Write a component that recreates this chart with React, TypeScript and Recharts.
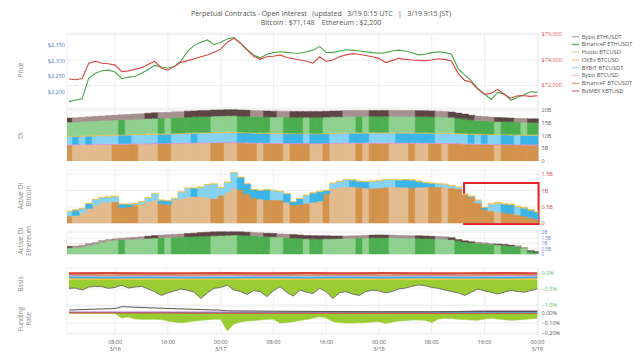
import React from 'react';
import { ComposedChart, Line, Bar, Area, XAxis, YAxis, CartesianGrid, Cell, ReferenceArea } from 'recharts';

const FONT = '"Open Sans", "DejaVu Sans", sans-serif';

// ---------- time axis (hours since 3/16 00:00) ----------
const xTicks = [8, 16, 24, 32, 40, 48, 56, 64, 72];
const xTickTimes = ['08:00', '16:00', '00:00', '08:00', '16:00', '00:00', '08:00', '16:00', '00:00'];
const xTickDates = ['3/16', '', '3/17', '', '', '3/18', '', '', '3/19'];
const X_DOMAIN: [number, number] = [0.7, 72.2];

// ---------- legend ----------
const legendNames = ['Bybit ETHUSDT', 'BinanceF ETHUSDT', 'Huobi BTCUSD', 'OKEx BTCUSD', 'BYBIT BTCUSDT', 'Bybit BTCUSD', 'BinanceF BTCUSDT', 'BitMEX XBTUSD'];
const legendColors = ['#c2aeae', '#62b862', '#d6e8a8', '#f6d58c', '#ace0f5', '#f1c6ee', '#e8ae74', '#e88a8a'];

// ---------- price ----------
const btcPrice = [72510, 72450, 72550, 73750, 73900, 73750, 73700, 73600, 73080, 73150,
  73270, 73400, 73650, 73900, 73350, 73200, 73500, 73820, 73950, 74100,
  74250, 74390, 74600, 74850, 75400, 75700, 75310, 74800, 74300, 74050,
  74260, 74300, 74400, 74200, 74100, 74000, 73900, 73750, 74250, 73900,
  74000, 74250, 74400, 74500, 74450, 74350, 74250, 74130, 73800, 73950,
  74130, 74050, 74000, 73970, 73950, 74000, 74100, 74050, 73900, 72950,
  72400, 72250, 71700, 71300, 71400, 71700, 71300, 71000, 71200, 71200,
  71150, 71200];
const ethPrice = [2171, 2176, 2180, 2245, 2260, 2268, 2270, 2264, 2243, 2248,
  2250, 2260, 2272, 2285, 2280, 2276, 2282, 2300, 2330, 2348,
  2358, 2365, 2350, 2358, 2368, 2372, 2355, 2335, 2318, 2308,
  2320, 2325, 2328, 2326, 2324, 2323, 2328, 2333, 2344, 2326,
  2325, 2330, 2334, 2333, 2330, 2328, 2325, 2323, 2325, 2330,
  2333, 2330, 2325, 2318, 2320, 2325, 2328, 2325, 2320, 2275,
  2255, 2236, 2212, 2195, 2178, 2200, 2195, 2175, 2185, 2193,
  2202, 2200];

// ---------- open interest (billions USD) ----------
const oiBinBtc = [6.2, 6.2, 6.25, 6.3, 6.35, 6.4, 6.4, 6.45, 6.5, 6.55,
  6.6, 6.6, 6.65, 6.7, 6.7, 6.75, 6.8, 6.85, 6.9, 6.95,
  7.0, 7.0, 7.05, 7.1, 7.1, 7.1, 7.05, 7.0, 6.95, 6.9,
  6.85, 6.8, 6.8, 6.75, 6.7, 6.7, 6.7, 6.7, 6.7, 6.75,
  6.8, 6.85, 6.9, 6.9, 6.9, 6.9, 6.9, 6.9, 6.9, 6.9,
  6.9, 6.9, 6.9, 6.9, 6.85, 6.85, 6.85, 6.8, 6.8, 6.7,
  6.6, 6.5, 6.45, 6.4, 6.35, 6.3, 6.3, 6.25, 6.25, 6.2,
  6.2, 6.2];
const oiBybitUsd = [0.35, 0.35, 0.35, 0.35, 0.35, 0.35, 0.35, 0.35, 0.35, 0.35,
  0.35, 0.35, 0.35, 0.35, 0.35, 0.35, 0.35, 0.35, 0.35, 0.35,
  0.35, 0.35, 0.35, 0.35, 0.35, 0.35, 0.35, 0.35, 0.35, 0.35,
  0.35, 0.35, 0.35, 0.35, 0.35, 0.35, 0.35, 0.35, 0.35, 0.35,
  0.35, 0.35, 0.35, 0.35, 0.35, 0.35, 0.35, 0.35, 0.35, 0.35,
  0.35, 0.35, 0.35, 0.35, 0.35, 0.35, 0.35, 0.35, 0.35, 0.35,
  0.35, 0.35, 0.35, 0.35, 0.35, 0.35, 0.35, 0.35, 0.35, 0.35,
  0.35, 0.35];
const oiBybitUsdt = [3.05, 3.05, 3.05, 3.1, 3.15, 3.15, 3.2, 3.25, 3.25, 3.25,
  3.3, 3.3, 3.35, 3.35, 3.4, 3.4, 3.45, 3.45, 3.5, 3.55,
  3.55, 3.6, 3.65, 3.65, 3.7, 3.7, 3.65, 3.65, 3.6, 3.6,
  3.55, 3.55, 3.55, 3.55, 3.55, 3.55, 3.55, 3.55, 3.55, 3.55,
  3.6, 3.6, 3.65, 3.65, 3.7, 3.7, 3.7, 3.7, 3.7, 3.7,
  3.65, 3.65, 3.65, 3.65, 3.65, 3.6, 3.6, 3.6, 3.6, 3.6,
  3.6, 3.55, 3.55, 3.55, 3.55, 3.55, 3.55, 3.55, 3.5, 3.5,
  3.5, 3.5];
const oiOkex = [0.35, 0.35, 0.35, 0.35, 0.35, 0.35, 0.35, 0.35, 0.35, 0.35,
  0.35, 0.35, 0.35, 0.35, 0.35, 0.35, 0.35, 0.35, 0.35, 0.35,
  0.35, 0.35, 0.35, 0.35, 0.35, 0.35, 0.35, 0.35, 0.35, 0.35,
  0.35, 0.35, 0.35, 0.35, 0.35, 0.35, 0.35, 0.35, 0.35, 0.35,
  0.35, 0.35, 0.35, 0.35, 0.35, 0.35, 0.35, 0.35, 0.35, 0.35,
  0.35, 0.35, 0.35, 0.35, 0.35, 0.35, 0.35, 0.35, 0.35, 0.35,
  0.35, 0.35, 0.35, 0.35, 0.35, 0.35, 0.35, 0.35, 0.35, 0.35,
  0.35, 0.35];
const oiBinEth = [5.4, 5.45, 5.5, 5.55, 5.6, 5.65, 5.7, 5.75, 5.8, 5.85,
  5.9, 5.95, 6.0, 6.05, 6.1, 6.1, 6.15, 6.15, 6.2, 6.2,
  6.25, 6.25, 6.3, 6.3, 6.35, 6.35, 6.3, 6.3, 6.3, 6.3,
  6.3, 6.3, 6.3, 6.3, 6.3, 6.3, 6.3, 6.3, 6.3, 6.3,
  6.3, 6.3, 6.3, 6.3, 6.3, 6.3, 6.3, 6.3, 6.3, 6.3,
  6.3, 6.3, 6.3, 6.3, 6.3, 6.3, 6.25, 6.2, 6.1, 5.9,
  5.7, 5.5, 5.3, 5.2, 5.1, 5.0, 5.0, 4.95, 4.9, 4.85,
  4.8, 4.8];
const oiBybitEth = [1.6, 1.65, 1.7, 1.75, 1.8, 1.85, 1.9, 1.95, 2.0, 2.0,
  2.05, 2.1, 2.15, 2.2, 2.2, 2.25, 2.3, 2.3, 2.35, 2.35,
  2.4, 2.4, 2.4, 2.4, 2.4, 2.4, 2.4, 2.35, 2.35, 2.35,
  2.3, 2.3, 2.3, 2.3, 2.3, 2.3, 2.3, 2.3, 2.3, 2.3,
  2.3, 2.3, 2.35, 2.35, 2.35, 2.35, 2.35, 2.35, 2.35, 2.35,
  2.35, 2.35, 2.35, 2.3, 2.3, 2.3, 2.25, 2.2, 2.1, 2.0,
  1.9, 1.8, 1.7, 1.65, 1.6, 1.55, 1.5, 1.5, 1.45, 1.45,
  1.4, 1.4];

// light / dark stripe pattern per exchange (D = dark, L = light)
const shadeBinBtc = 'DLLLLLLDDD' + 'DLLLDDLLLL' + 'LLDDLLDDDL' + 'DDDLDDDLLD' + 'LLLLDLDDDL' + 'LLDLLDDLDD' + 'DDDDDLDDDD' + 'DD';
const shadeBybitUsdt = 'LDLDLLLLDD' + 'LLLLDDLLLD' + 'LLLLLLDDDD' + 'DLLDDDLDDD' + 'LLLDDDLLLL' + 'DDDDDDLLLL' + 'LDLDLLDDLD' + 'DD';
const shadeBinEth = 'LLLLLLLLDL' + 'LLLLDLDDDD' + 'DDLLLLDDDD' + 'DLLDDDLDDL' + 'LLLLDLDDDL' + 'LLLDDDLLLD' + 'DDDDDLDDDL' + 'DD';
const shadeBybitEth = 'DLLLLLLLLL' + 'LLDDLLLLDD' + 'DDDDDDDDLL' + 'DDLLDDDDDD' + 'DDLLLLDDDL' + 'LLLDDDLLDD' + 'DDLLLDDDLL' + 'DD';

// ---------- active OI bitcoin (billions) ----------
const actBinBtc = [0.22, 0.24, 0.32, 0.45, 0.55, 0.64, 0.65, 0.66, 0.48, 0.50,
  0.56, 0.60, 0.66, 0.70, 0.60, 0.58, 0.71, 0.76, 0.80, 0.82,
  0.82, 0.79, 0.76, 0.86, 0.95, 1.08, 1.02, 0.90, 0.78, 0.74,
  0.71, 0.71, 0.71, 0.64, 0.56, 0.58, 0.61, 0.64, 0.68, 0.90,
  1.07, 1.10, 1.12, 1.12, 1.10, 1.08, 1.07, 1.08, 1.10, 1.12,
  1.11, 1.10, 1.09, 1.10, 1.11, 1.12, 1.11, 1.10, 1.08, 1.05,
  0.87, 0.80, 0.62, 0.42, 0.38, 0.35, 0.32, 0.30, 0.26, 0.22,
  0.17, 0.12];
const actBybitUsdt = [0.14, 0.16, 0.13, 0.15, 0.17, 0.14, 0.15, 0.16, 0.10, 0.08,
  0.04, 0.06, 0.11, 0.20, 0.10, 0.10, 0.04, 0.19, 0.27, 0.25,
  0.28, 0.39, 0.44, 0.22, 0.30, 0.47, 0.38, 0.30, 0.24, 0.26,
  0.31, 0.29, 0.26, 0.26, 0.09, 0.17, 0.24, 0.28, 0.28, 0.10,
  0.15, 0.18, 0.21, 0.20, 0.18, 0.19, 0.21, 0.22, 0.23, 0.21,
  0.21, 0.23, 0.23, 0.18, 0.13, 0.10, 0.09, 0.09, 0.07, 0.05,
  0.01, 0.02, 0.08, 0.06, 0.20, 0.26, 0.26, 0.26, 0.24, 0.24,
  0.23, 0.22];
const actOkex = [0.02, 0.02, 0.02, 0.02, 0.02, 0.02, 0.02, 0.02, 0.02, 0.02,
  0.02, 0.02, 0.02, 0.02, 0.02, 0.02, 0.02, 0.02, 0.02, 0.02,
  0.02, 0.02, 0.02, 0.02, 0.02, 0.02, 0.02, 0.02, 0.02, 0.02,
  0.02, 0.02, 0.02, 0.02, 0.02, 0.02, 0.02, 0.02, 0.02, 0.02,
  0.02, 0.02, 0.02, 0.02, 0.02, 0.02, 0.02, 0.02, 0.02, 0.02,
  0.02, 0.02, 0.02, 0.02, 0.02, 0.02, 0.02, 0.02, 0.02, 0.02,
  0.02, 0.02, 0.02, 0.02, 0.03, 0.03, 0.03, 0.03, 0.03, 0.03,
  0.03, 0.03];

// ---------- active OI ethereum (billions) ----------
const actBinEth = [0.60, 0.62, 0.70, 0.82, 0.95, 1.15, 1.25, 1.30, 1.35, 1.38,
  1.42, 1.45, 1.48, 1.52, 1.54, 1.56, 1.58, 1.60, 1.62, 1.65,
  1.68, 1.70, 1.72, 1.74, 1.76, 1.79, 1.78, 1.75, 1.72, 1.68,
  1.64, 1.62, 1.58, 1.55, 1.52, 1.48, 1.45, 1.43, 1.42, 1.43,
  1.45, 1.47, 1.48, 1.49, 1.50, 1.52, 1.53, 1.54, 1.54, 1.53,
  1.52, 1.50, 1.48, 1.48, 1.47, 1.45, 1.43, 1.42, 1.36, 1.25,
  1.15, 1.08, 1.02, 0.98, 0.92, 0.88, 0.84, 0.78, 0.72, 0.55,
  0.28, 0.18];
const actBybitEth = [0.15, 0.15, 0.15, 0.18, 0.15, 0.12, 0.12, 0.13, 0.14, 0.15,
  0.16, 0.18, 0.20, 0.22, 0.25, 0.26, 0.27, 0.28, 0.30, 0.31,
  0.33, 0.35, 0.36, 0.35, 0.32, 0.30, 0.30, 0.30, 0.31, 0.31,
  0.31, 0.31, 0.31, 0.31, 0.31, 0.31, 0.30, 0.30, 0.30, 0.28,
  0.25, 0.23, 0.22, 0.22, 0.23, 0.24, 0.25, 0.26, 0.25, 0.25,
  0.24, 0.24, 0.24, 0.24, 0.23, 0.22, 0.21, 0.21, 0.18, 0.12,
  0.10, 0.09, 0.09, 0.08, 0.07, 0.07, 0.07, 0.07, 0.07, 0.07,
  0.06, 0.06];

// ---------- basis (%) ----------
const basisLow = [-0.48, -0.47, -0.53, -0.44, -0.42, -0.43, -0.48, -0.45, -0.38, -0.47,
  -0.44, -0.42, -0.50, -0.58, -0.70, -0.62, -0.56, -0.50, -0.54, -0.60,
  -0.80, -0.62, -0.48, -0.45, -0.38, -0.53, -0.58, -0.67, -0.55, -0.58,
  -0.74, -0.55, -0.43, -0.60, -0.72, -0.53, -0.60, -0.64, -0.48, -0.58,
  -0.80, -0.62, -0.58, -0.66, -0.70, -0.58, -0.54, -0.56, -0.62, -0.58,
  -0.50, -0.47, -0.42, -0.37, -0.40, -0.45, -0.48, -0.53, -0.58, -0.62,
  -0.70, -0.60, -0.50, -0.56, -0.60, -0.66, -0.60, -0.54, -0.58, -0.60,
  -0.55, -0.50];
const basisT = [1, 7, 13, 19, 25, 31, 37, 43, 49, 55, 61, 67, 72];
const basisBitmex = [-0.01, 0.0, -0.01, -0.01, 0.0, -0.01, 0.0, -0.01, 0.0, -0.01, -0.01, 0.0, -0.01];
const basisBinBtc = [-0.05, -0.06, -0.05, -0.06, -0.05, -0.05, -0.06, -0.05, -0.06, -0.05, -0.06, -0.05, -0.05];
const basisBybitUsd = [-0.08, -0.09, -0.08, -0.09, -0.08, -0.09, -0.08, -0.08, -0.09, -0.08, -0.09, -0.08, -0.09];
const basisBybitUsdt = [-0.13, -0.14, -0.13, -0.14, -0.14, -0.13, -0.14, -0.13, -0.14, -0.13, -0.14, -0.14, -0.13];
const basisOkex = [-0.18, -0.19, -0.18, -0.19, -0.19, -0.18, -0.19, -0.18, -0.19, -0.18, -0.19, -0.18, -0.19];

// ---------- funding rate (%) ----------
const fundHuobi = [-0.005, -0.005, -0.005, -0.005, -0.005, -0.005, -0.005, -0.005, -0.050, -0.040,
  -0.060, -0.063, -0.063, -0.063, -0.065, -0.080, -0.090, -0.097, -0.090, -0.080,
  -0.073, -0.068, -0.063, -0.063, -0.180, -0.110, -0.090, -0.080, -0.075, -0.070,
  -0.063, -0.063, -0.100, -0.095, -0.087, -0.075, -0.065, -0.053, -0.035, -0.050,
  -0.085, -0.095, -0.100, -0.100, -0.098, -0.095, -0.090, -0.087, -0.105, -0.090,
  -0.080, -0.075, -0.070, -0.070, -0.072, -0.095, -0.060, -0.053, -0.055, -0.063,
  -0.065, -0.070, -0.073, -0.060, -0.053, -0.060, -0.068, -0.073, -0.070, -0.065,
  -0.058, -0.053];
const fundT = [1, 8, 9, 16, 24, 25, 32, 40, 48, 56, 64, 72];
const fundBybitEth = [0.030, 0.045, 0.063, 0.045, 0.028, 0.022, 0.018, 0.015, 0.013, 0.013, 0.015, 0.015];
const fundBybitUsd = [0.010, 0.010, 0.010, 0.010, 0.010, 0.010, 0.010, 0.010, 0.010, 0.010, 0.022, 0.022];
const fundBybitUsdt = [0.006, 0.006, 0.005, 0.005, 0.005, 0.005, 0.005, 0.005, 0.005, 0.005, 0.005, 0.005];
const fundBitmex = [0.002, 0.002, 0.000, 0.000, -0.002, -0.002, -0.002, -0.002, -0.002, -0.003, -0.003, -0.003];

// ---------- tables built from the arrays ----------
const rows = btcPrice.map((v, i) => ({
  t: i + 1,
  btc: v,
  eth: ethPrice[i],
  oiBinBtc: oiBinBtc[i],
  oiBybitUsd: oiBybitUsd[i],
  oiBybitUsdt: oiBybitUsdt[i],
  oiOkex: oiOkex[i],
  oiBinEth: oiBinEth[i],
  oiBybitEth: oiBybitEth[i],
  actBinBtc: actBinBtc[i],
  actBybitUsdt: actBybitUsdt[i],
  actOkex: actOkex[i],
  actBinEth: actBinEth[i],
  actBybitEth: actBybitEth[i],
  basisLow: basisLow[i],
  fund: fundHuobi[i],
}));
const basisRows = basisT.map((t, i) => ({
  t, bitmex: basisBitmex[i], binBtc: basisBinBtc[i], bybitUsd: basisBybitUsd[i], bybitUsdt: basisBybitUsdt[i], okex: basisOkex[i],
}));
const fundRows = fundT.map((t, i) => ({
  t, bybitEth: fundBybitEth[i], bybitUsd: fundBybitUsd[i], bybitUsdt: fundBybitUsdt[i], bitmex: fundBitmex[i],
}));

// ---------- styling ----------
const COL = {
  bybitEthD: '#5e4545', bybitEthL: '#a68f8f',
  binEthD: '#4cae4f', binEthL: '#8fd08f',
  bybitUsdtD: '#3bb4e8', bybitUsdtL: '#86d2f2',
  binBtcD: '#d3934c', binBtcL: '#e2bb8e',
  bybitUsd: '#e08ad8', okex: '#f0c040', huobi: '#9acd32', bitmex: '#d9453f',
  ethLine: '#4aa64a', grey: '#666666',
};
const PLOT_L = 67;
const PLOT_R = 538.6;
const RW = 60;
const LW = 30;
const PAD = 6;
const GRID = '#eeeeee';

const fmtB = (v: number) => (v === 0 ? '0' : `${v}B`);
const fmtUsd = (v: number) => '$' + v.toLocaleString('en-US');
const minus = (s: string) => s.replace('-', '\u2212');

function xAxisEl(hide: boolean) {
  return (
    <XAxis
      type="number"
      dataKey="t"
      domain={X_DOMAIN}
      ticks={xTicks}
      allowDataOverflow
      interval={0}
      hide={hide}
      tickLine={false}
      axisLine={false}
      tickSize={0}
      tickMargin={2}
      height={24}
      tick={(p: any) => <XTick {...p} />}
    />
  );
}

function XTick(props: any) {
  const { x, y, payload } = props;
  const i = xTicks.indexOf(payload.value);
  return (
    <text x={x} y={y} textAnchor="middle" fontSize={5.5} fill="#555" fontFamily={FONT}>
      <tspan x={x} dy={8}>{xTickTimes[i]}</tspan>
      {xTickDates[i] ? <tspan x={x} dy={7}>{xTickDates[i]}</tspan> : null}
    </text>
  );
}

function rightAxis(domain: [number, number], ticks: number[], fmt: (v: number) => string, color: string, size = 5.5) {
  return (
    <YAxis
      yAxisId="r"
      orientation="right"
      domain={domain}
      ticks={ticks}
      allowDataOverflow
      interval={0}
      width={RW}
      tickFormatter={fmt}
      tick={{ fontSize: size, fill: color, fontFamily: FONT }}
      tickSize={0}
      tickMargin={3}
      tickLine={false}
      axisLine={false}
    />
  );
}

function stripedBar(key: string, shade: string, dark: string, light: string) {
  return (
    <Bar key={key} yAxisId="r" dataKey={key} stackId="s" isAnimationActive={false}>
      {rows.map((_, i) => {
        const c = shade[i] === 'D' ? dark : light;
        return <Cell key={i} fill={c} stroke={c} strokeWidth={0.5} />;
      })}
    </Bar>
  );
}

function plainBar(key: string, color: string) {
  return <Bar key={key} yAxisId="r" dataKey={key} stackId="s" fill={color} stroke={color} strokeWidth={0.3} isAnimationActive={false} />;
}

const margins = (left: number) => ({ top: PAD, bottom: PAD, left, right: 640 - PLOT_R - RW });

function PriceChart() {
  const top = 33, bottom = 108;
  return (
    <div style={{ position: 'absolute', left: 0, top: top - PAD }}>
      <ComposedChart width={640} height={bottom - top + 2 * PAD} data={rows} margin={margins(PLOT_L - LW)}>
        <CartesianGrid yAxisId="btc" stroke={GRID} />
        {xAxisEl(true)}
        <YAxis yAxisId="eth" orientation="left" domain={[2151, 2386.8]} ticks={[2200, 2250, 2300, 2350]} allowDataOverflow interval={0}
          width={LW} tickFormatter={fmtUsd} tick={{ fontSize: 5.5, fill: '#4f7fd4', fontFamily: FONT }} tickSize={0} tickMargin={2} tickLine={false} axisLine={false} />
        <YAxis yAxisId="btc" orientation="right" domain={[70235, 76118]} ticks={[72000, 74000, 76000]} allowDataOverflow interval={0}
          width={RW} tickFormatter={fmtUsd} tick={{ fontSize: 5.5, fill: '#e0505a', fontFamily: FONT }} tickSize={0} tickMargin={3} tickLine={false} axisLine={false} />
        <Line yAxisId="eth" dataKey="eth" stroke={COL.ethLine} strokeWidth={1.1} dot={false} isAnimationActive={false} />
        <Line yAxisId="btc" dataKey="btc" stroke={COL.bitmex} strokeWidth={1.1} dot={false} isAnimationActive={false} />
      </ComposedChart>
    </div>
  );
}

function OIChart() {
  const top = 109.4, bottom = 161.3;
  return (
    <div style={{ position: 'absolute', left: 0, top: top - PAD }}>
      <ComposedChart width={640} height={bottom - top + 2 * PAD} data={rows} margin={margins(PLOT_L)} barCategoryGap={0} barGap={0}>
        <CartesianGrid yAxisId="r" stroke={GRID} />
        {xAxisEl(true)}
        {rightAxis([0, 20.5], [0, 5, 10, 15, 20], fmtB, '#666')}
        {stripedBar('oiBinBtc', shadeBinBtc, COL.binBtcD, COL.binBtcL)}
        {plainBar('oiBybitUsd', COL.bybitUsd)}
        {stripedBar('oiBybitUsdt', shadeBybitUsdt, COL.bybitUsdtD, COL.bybitUsdtL)}
        {plainBar('oiOkex', COL.okex)}
        {stripedBar('oiBinEth', shadeBinEth, COL.binEthD, COL.binEthL)}
        {stripedBar('oiBybitEth', shadeBybitEth, COL.bybitEthD, COL.bybitEthL)}
      </ComposedChart>
    </div>
  );
}

function ActiveBtcChart() {
  const top = 170, bottom = 223.3;
  return (
    <div style={{ position: 'absolute', left: 0, top: top - PAD }}>
      <ComposedChart width={640} height={bottom - top + 2 * PAD} data={rows} margin={margins(PLOT_L)} barCategoryGap={0} barGap={0}>
        <CartesianGrid yAxisId="r" stroke={GRID} />
        {xAxisEl(true)}
        {rightAxis([0, 1.63], [0, 0.5, 1, 1.5], fmtB, '#d9453f')}
        {stripedBar('actBinBtc', shadeBinBtc, COL.binBtcD, COL.binBtcL)}
        {stripedBar('actBybitUsdt', shadeBybitUsdt, COL.bybitUsdtD, COL.bybitUsdtL)}
        {plainBar('actOkex', COL.okex)}
        <ReferenceArea yAxisId="r" x1={60.9} x2={72.2} y1={-0.02} y2={1.23} fill="none" stroke="#e8202a" strokeWidth={2} ifOverflow="visible" />
      </ComposedChart>
    </div>
  );
}

function ActiveEthChart() {
  const top = 231, bottom = 254.3;
  return (
    <div style={{ position: 'absolute', left: 0, top: top - PAD }}>
      <ComposedChart width={640} height={bottom - top + 2 * PAD} data={rows} margin={margins(PLOT_L)} barCategoryGap={0} barGap={0}>
        <CartesianGrid yAxisId="r" stroke={GRID} />
        {xAxisEl(true)}
        {rightAxis([0, 2.16], [0, 0.5, 1, 1.5, 2], fmtB, '#4f7fd4', 4.6)}
        {stripedBar('actBinEth', shadeBinEth, COL.binEthD, COL.binEthL)}
        {stripedBar('actBybitEth', shadeBybitEth, COL.bybitEthD, COL.bybitEthL)}
      </ComposedChart>
    </div>
  );
}

function BasisChart() {
  const top = 268, bottom = 305;
  return (
    <div style={{ position: 'absolute', left: 0, top: top - PAD }}>
      <ComposedChart width={640} height={bottom - top + 2 * PAD} data={rows} margin={margins(PLOT_L)}>
        <CartesianGrid yAxisId="r" stroke={GRID} />
        {xAxisEl(true)}
        {rightAxis([-1.0, 0.156], [-1.0, -0.5, 0], (v) => minus(v.toFixed(1) + '%'), '#5cb85c')}
        <Area yAxisId="r" dataKey="basisLow" baseValue={-0.2} fill={COL.huobi} fillOpacity={1} stroke="none" isAnimationActive={false} />
        <Line yAxisId="r" dataKey="basisLow" stroke={COL.grey} strokeWidth={0.9} dot={false} isAnimationActive={false} />
        <Line yAxisId="r" data={basisRows} dataKey="okex" stroke={COL.okex} strokeWidth={2} dot={false} isAnimationActive={false} />
        <Line yAxisId="r" data={basisRows} dataKey="bybitUsdt" stroke={COL.bybitUsdtD} strokeWidth={2} dot={false} isAnimationActive={false} />
        <Line yAxisId="r" data={basisRows} dataKey="bybitUsd" stroke={COL.bybitUsd} strokeWidth={1.5} dot={false} isAnimationActive={false} />
        <Line yAxisId="r" data={basisRows} dataKey="binBtc" stroke={COL.binBtcD} strokeWidth={1.5} dot={false} isAnimationActive={false} />
        <Line yAxisId="r" data={basisRows} dataKey="bitmex" stroke={COL.bitmex} strokeWidth={2} dot={false} isAnimationActive={false} />
      </ComposedChart>
    </div>
  );
}

function FundingChart() {
  const top = 306, bottom = 334;
  return (
    <div style={{ position: 'absolute', left: 0, top: top - PAD }}>
      <ComposedChart width={640} height={bottom - top + PAD + 24} data={rows}
        margin={{ top: PAD, bottom: 0, left: PLOT_L, right: 640 - PLOT_R - RW }}>
        <CartesianGrid yAxisId="r" stroke={GRID} />
        {xAxisEl(false)}
        {rightAxis([-0.21, 0.07], [-0.2, -0.1, 0], (v) => minus(v.toFixed(2) + '%'), '#555')}
        <Area yAxisId="r" dataKey="fund" baseValue={0} fill={COL.huobi} fillOpacity={1} stroke={COL.huobi} strokeWidth={0.6} isAnimationActive={false} />
        <Line yAxisId="r" data={fundRows} dataKey="bybitUsdt" stroke={COL.bybitUsdtD} strokeWidth={1} dot={false} isAnimationActive={false} />
        <Line yAxisId="r" data={fundRows} dataKey="bybitUsd" stroke="#b070c8" strokeWidth={1} dot={false} isAnimationActive={false} />
        <Line yAxisId="r" data={fundRows} dataKey="bitmex" stroke={COL.bitmex} strokeWidth={1} dot={false} isAnimationActive={false} />
        <Line yAxisId="r" data={fundRows} dataKey="bybitEth" stroke="#555" strokeWidth={1} dot={false} isAnimationActive={false} />
      </ComposedChart>
    </div>
  );
}

function Overlay() {
  const lab = { fontSize: 6.5, fill: '#888', fontFamily: FONT, textAnchor: 'middle' as const };
  return (
    <svg width={640} height={360} style={{ position: 'absolute', left: 0, top: 0, pointerEvents: 'none' }}>
      <text x={321} y={15.5} textAnchor="middle" fontSize={7} fill="#555" fontFamily={FONT} style={{ whiteSpace: 'pre' }}>
        {'Perpetual Contracts - Open Interest   (updated   3/19 0:15 UTC   |   3/19 9:15 JST)'}
      </text>
      <text x={321} y={24.5} textAnchor="middle" fontSize={7} fill="#555" fontFamily={FONT} style={{ whiteSpace: 'pre' }}>
        {'Bitcoin : $71,148    Ethereum : $2,200'}
      </text>
      <text transform="translate(23,70) rotate(-90)" {...lab}>Price</text>
      <text transform="translate(23,135.5) rotate(-90)" {...lab}>OI</text>
      <text transform="translate(23,196) rotate(-90)" {...lab}>Active OI</text>
      <text transform="translate(30.6,196) rotate(-90)" {...lab}>Bitcoin</text>
      <text transform="translate(23,241) rotate(-90)" {...lab}>Active OI</text>
      <text transform="translate(30.6,241) rotate(-90)" {...lab}>Ethereum</text>
      <text transform="translate(23,284) rotate(-90)" {...lab}>Basis</text>
      <text transform="translate(23,319) rotate(-90)" {...lab}>Funding</text>
      <text transform="translate(30.6,319) rotate(-90)" {...lab}>Rate</text>
      {legendNames.map((n, i) => (
        <g key={n}>
          <line x1={571.7} x2={579} y1={36.7 + i * 7.76} y2={36.7 + i * 7.76} stroke={legendColors[i]} strokeWidth={1.5} />
          <text x={581.7} y={36.7 + i * 7.76} dy="0.35em" fontSize={5.7} fill="#555" fontFamily={FONT}>{n}</text>
        </g>
      ))}
    </svg>
  );
}

export default function App() {
  return (
    <div style={{ position: 'absolute', left: 0, top: 0, width: 640, height: 360, background: '#fff', overflow: 'hidden' }}>
      <PriceChart />
      <OIChart />
      <ActiveBtcChart />
      <ActiveEthChart />
      <BasisChart />
      <FundingChart />
      <Overlay />
    </div>
  );
}
